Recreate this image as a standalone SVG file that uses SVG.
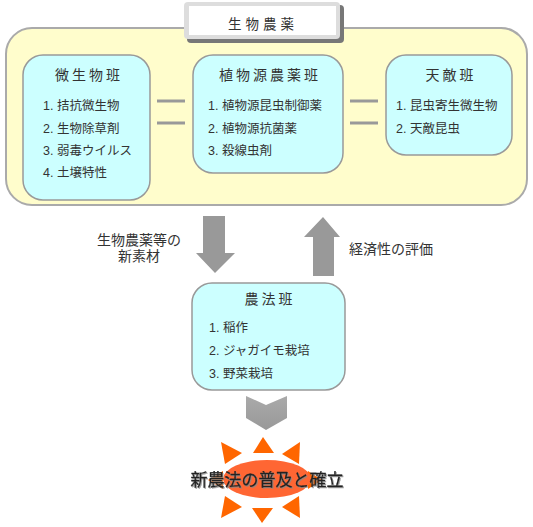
<svg xmlns="http://www.w3.org/2000/svg" width="533" height="527" viewBox="0 0 533 527">
<defs>
<style>
text{font-family:"Liberation Sans","Noto Sans CJK JP",sans-serif;fill:#333}
.box{fill:#CCFFFF;stroke:#999;stroke-width:1.5}
.ttl{font-size:14px;letter-spacing:3px;text-anchor:middle}
.item{font-size:12.5px}
.lbl{font-size:14px}
.conn{stroke:#999;stroke-width:3}
.arr{fill:#999}
.ray{fill:#FF6600}
</style>
<linearGradient id="chev" x1="0" y1="0" x2="0" y2="1">
<stop offset="0" stop-color="#aaa"/><stop offset="1" stop-color="#999"/>
</linearGradient>
<filter id="sh" x="-10%" y="-30%" width="120%" height="160%">
<feDropShadow dx="1" dy="1" stdDeviation="0.6" flood-color="#888" flood-opacity="0.8"/>
</filter>
</defs>
<g id="group-biopesticide">
<rect x="6" y="28" width="521" height="177" rx="26" fill="#FFFDCC" stroke="#aaa" stroke-width="2"/>
</g>
<g id="title">
<rect x="187" y="5" width="157" height="38" rx="4" fill="#777"/>
<rect x="184" y="2" width="156" height="37" rx="4" fill="#ddd"/>
<rect x="189" y="6" width="147" height="29" fill="#fff"/>
<text x="263" y="29" style="font-size:13.5px;letter-spacing:4px;text-anchor:middle">生物農薬</text>
</g>
<g id="microbe">
<rect class="box" x="23" y="55" width="127" height="145" rx="20"/>
<text class="ttl" x="89" y="80">微生物班</text>
<text class="item" x="43" y="110">1. 拮抗微生物</text>
<text class="item" x="43" y="133">2. 生物除草剤</text>
<text class="item" x="43" y="155">3. 弱毒ウイルス</text>
<text class="item" x="43" y="177">4. 土壌特性</text>
</g>
<g id="plant">
<rect class="box" x="193" y="55" width="150" height="118" rx="20"/>
<text class="ttl" x="270" y="80">植物源農薬班</text>
<text class="item" x="208" y="110">1. 植物源昆虫制御薬</text>
<text class="item" x="208" y="133">2. 植物源抗菌薬</text>
<text class="item" x="208" y="155">3. 殺線虫剤</text>
</g>
<g id="enemy">
<rect class="box" x="386" y="55" width="126" height="100" rx="20"/>
<text class="ttl" x="451" y="80">天敵班</text>
<text class="item" x="396" y="110">1. 昆虫寄生微生物</text>
<text class="item" x="396" y="133">2. 天敵昆虫</text>
</g>
<g id="farming">
<rect class="box" x="192" y="283" width="153" height="107" rx="20"/>
<text class="ttl" x="270" y="304">農法班</text>
<text class="item" x="209" y="332">1. 稲作</text>
<text class="item" x="209" y="355">2. ジャガイモ栽培</text>
<text class="item" x="209" y="378">3. 野菜栽培</text>
</g>
<g id="goal">
<polygon class="ray" points="263,437 253,453 274,453"/>
<polygon class="ray" points="262,523 252,508 273,508"/>
<polygon class="ray" points="221,442 242,453 225,464"/>
<polygon class="ray" points="300,442 282,454 299,464"/>
<polygon class="ray" points="221,518 242,507 225,496"/>
<polygon class="ray" points="300,518 282,507 299,496"/>
<polygon class="ray" points="208,480 223,471 223,489"/>
<polygon class="ray" points="322,480 308,471 308,489"/>
<ellipse cx="267" cy="479" rx="44" ry="19" fill="#FF6633"/>
<text x="267" y="486" filter="url(#sh)" style="font-size:17px;text-anchor:middle;fill:#222;stroke:#222;stroke-width:0.3">新農法の普及と確立</text>
</g>
<g id="connectors">
<line class="conn" x1="157" y1="101" x2="185" y2="101"/>
<line class="conn" x1="157" y1="123" x2="185" y2="123"/>
<line class="conn" x1="350" y1="101" x2="378" y2="101"/>
<line class="conn" x1="350" y1="123" x2="378" y2="123"/>
<polygon class="arr" points="203,216 225,216 225,253 235,253 215,273 196,253 203,253"/>
<polygon class="arr" points="313,276 334,276 334,237 340,237 323,217 304,237 313,237"/>
<polygon fill="url(#chev)" points="246,396 266,405 287,396 287,418 266,430 246,418"/>
<text class="lbl" x="139" y="245" text-anchor="middle">生物農薬等の</text>
<text class="lbl" x="139" y="261" text-anchor="middle">新素材</text>
<text class="lbl" x="349" y="254">経済性の評価</text>
</g>
</svg>
